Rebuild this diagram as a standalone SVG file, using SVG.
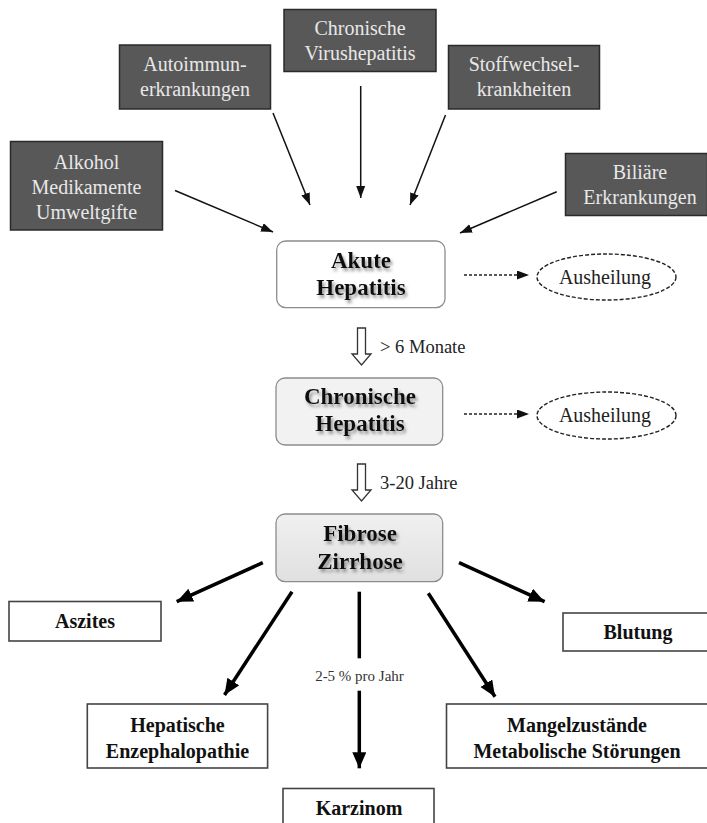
<svg xmlns="http://www.w3.org/2000/svg" width="707" height="823" viewBox="0 0 707 823">
  <style>
    .cause rect { fill: #585858; stroke: #2a2a2a; stroke-width: 1.5; }
    .cause text { font-family: "Liberation Serif", "Times New Roman", serif; font-size: 20px; fill: #e8e8e8; text-anchor: middle; }
    .stage rect { stroke: #8c8c8c; stroke-width: 1.3; }
    .stage text { font-family: "Liberation Serif", "Times New Roman", serif; font-size: 23px; font-weight: bold; fill: #111; text-anchor: middle; filter: url(#textShadow); }
    .outcome rect { fill: #fff; stroke: #444; stroke-width: 1.6; }
    .outcome text { font-family: "Liberation Serif", "Times New Roman", serif; font-size: 20px; font-weight: bold; fill: #111; text-anchor: middle; }
    .heal ellipse { fill: #fff; stroke: #222; stroke-width: 1.4; stroke-dasharray: 4 2; }
    .heal text { font-family: "Liberation Serif", "Times New Roman", serif; font-size: 20px; fill: #222; text-anchor: middle; }
    .label { font-family: "Liberation Serif", "Times New Roman", serif; font-size: 18.5px; fill: #222; }
    .small { font-family: "Liberation Serif", "Times New Roman", serif; font-size: 15px; fill: #333; text-anchor: middle; }
    .thin { stroke: #111; stroke-width: 1.5; fill: none; marker-end: url(#headThin); }
    .dash { stroke: #222; stroke-width: 1.3; stroke-dasharray: 3 2; fill: none; marker-end: url(#headThin); }
    .thick { stroke: #000; stroke-width: 3.5; fill: none; }
    .thick.tip { marker-end: url(#headThick); }
    .hollow { fill: #fff; stroke: #333; stroke-width: 1.3; }
  </style>
  <defs>
    <marker id="headThin" markerUnits="userSpaceOnUse" markerWidth="13" markerHeight="10" refX="12" refY="4.5" orient="auto">
      <path d="M0,0 L12,4.5 L0,9 z" fill="#111"/>
    </marker>
    <marker id="headThick" markerUnits="userSpaceOnUse" markerWidth="18" markerHeight="16" refX="16" refY="7" orient="auto">
      <path d="M0,0 L16,7 L0,14 z" fill="#000"/>
    </marker>
    <filter id="textShadow" x="-10%" y="-30%" width="125%" height="170%">
      <feGaussianBlur in="SourceAlpha" stdDeviation="1.6"/>
      <feOffset dx="2" dy="2.5" result="blur"/>
      <feFlood flood-color="#777" flood-opacity="0.75"/>
      <feComposite in2="blur" operator="in"/>
      <feMerge>
        <feMergeNode/>
        <feMergeNode in="SourceGraphic"/>
      </feMerge>
    </filter>
    <linearGradient id="fibroseFill" x1="0" y1="0" x2="0" y2="1">
      <stop offset="0" stop-color="#f0f0f0"/>
      <stop offset="1" stop-color="#e0e0e0"/>
    </linearGradient>
  </defs>

  <!-- causes -->
  <g id="chronische-virushepatitis" class="cause">
    <rect x="284" y="9.5" width="152" height="62"/>
    <text x="360" y="34.5">Chronische</text>
    <text x="360" y="59.5">Virushepatitis</text>
  </g>
  <g id="autoimmunerkrankungen" class="cause">
    <rect x="119.5" y="45" width="151" height="64"/>
    <text x="195" y="71">Autoimmun-</text>
    <text x="195" y="96">erkrankungen</text>
  </g>
  <g id="stoffwechselkrankheiten" class="cause">
    <rect x="448.5" y="45.5" width="151" height="63.5"/>
    <text x="524" y="71">Stoffwechsel-</text>
    <text x="524" y="96">krankheiten</text>
  </g>
  <g id="alkohol" class="cause">
    <rect x="10.5" y="141.5" width="152" height="88.5"/>
    <text x="86.5" y="169">Alkohol</text>
    <text x="86.5" y="194">Medikamente</text>
    <text x="86.5" y="219">Umweltgifte</text>
  </g>
  <g id="biliaere-erkrankungen" class="cause">
    <rect x="565.5" y="153.5" width="142" height="62"/>
    <text x="640" y="179">Biliäre</text>
    <text x="640" y="204">Erkrankungen</text>
  </g>

  <!-- stages -->
  <g id="akute-hepatitis" class="stage">
    <rect x="276.7" y="241" width="168.3" height="66.7" rx="9" fill="#fff"/>
    <text x="361" y="267.5">Akute</text>
    <text x="361" y="294.5">Hepatitis</text>
  </g>
  <g id="chronische-hepatitis" class="stage">
    <rect x="276" y="378" width="166.7" height="67" rx="9" fill="#f2f2f2"/>
    <text x="360" y="403.5">Chronische</text>
    <text x="360" y="430.5">Hepatitis</text>
  </g>
  <g id="fibrose-zirrhose" class="stage">
    <rect x="276" y="514" width="166.7" height="67.7" rx="9" fill="url(#fibroseFill)"/>
    <text x="360" y="540.5">Fibrose</text>
    <text x="360" y="568.5">Zirrhose</text>
  </g>

  <!-- healing -->
  <g id="ausheilung-1" class="heal">
    <ellipse cx="606.5" cy="277" rx="69.5" ry="23"/>
    <text x="605" y="283.5">Ausheilung</text>
  </g>
  <g id="ausheilung-2" class="heal">
    <ellipse cx="606.5" cy="415.5" rx="69.5" ry="23.5"/>
    <text x="605" y="422">Ausheilung</text>
  </g>

  <!-- outcomes -->
  <g id="aszites" class="outcome">
    <rect x="9" y="601.5" width="152" height="39.5"/>
    <text x="85" y="628">Aszites</text>
  </g>
  <g id="blutung" class="outcome">
    <rect x="563" y="613" width="146" height="38"/>
    <text x="638" y="639">Blutung</text>
  </g>
  <g id="hepatische-enzephalopathie" class="outcome">
    <rect x="87.3" y="704" width="180.3" height="64"/>
    <text x="177.5" y="731.5">Hepatische</text>
    <text x="177.5" y="758">Enzephalopathie</text>
  </g>
  <g id="mangelzustaende" class="outcome">
    <rect x="446.5" y="704" width="262" height="64"/>
    <text x="577" y="731.5">Mangelzustände</text>
    <text x="577" y="758">Metabolische Störungen</text>
  </g>
  <g id="karzinom" class="outcome">
    <rect x="283" y="788.5" width="151" height="42"/>
    <text x="359" y="815">Karzinom</text>
  </g>

  <!-- connectors -->
  <g id="connectors">
    <line class="thin" x1="273" y1="113" x2="310" y2="205"/>
    <line class="thin" x1="360.7" y1="86" x2="360.7" y2="198"/>
    <line class="thin" x1="445.5" y1="115" x2="410" y2="205"/>
    <line class="thin" x1="175" y1="190.5" x2="273" y2="232"/>
    <line class="thin" x1="556.7" y1="191.7" x2="460" y2="233"/>

    <line class="dash" x1="464" y1="275" x2="529" y2="275"/>
    <line class="dash" x1="464" y1="414" x2="529" y2="414"/>

    <polygon class="hollow" points="357.5,328 365.5,328 365.5,354 371,354 361.5,365 352,354 357.5,354"/>
    <text class="label" x="380" y="352.5">&gt; 6 Monate</text>
    <polygon class="hollow" points="357.5,464 365.5,464 365.5,490 371,490 361.5,501 352,490 357.5,490"/>
    <text class="label" x="380" y="489">3-20 Jahre</text>

    <line class="thick tip" x1="262.8" y1="562.7" x2="176.7" y2="601.7"/>
    <line class="thick tip" x1="292" y1="591.7" x2="224.5" y2="695"/>
    <line class="thick" x1="359.3" y1="591.7" x2="359.3" y2="658.3"/>
    <text class="small" x="359.5" y="681">2-5 % pro Jahr</text>
    <line class="thick tip" x1="359.3" y1="690.7" x2="359.3" y2="768.3"/>
    <line class="thick tip" x1="428.3" y1="593.3" x2="495" y2="696.7"/>
    <line class="thick tip" x1="459" y1="562.7" x2="544.6" y2="601.7"/>
  </g>
</svg>
